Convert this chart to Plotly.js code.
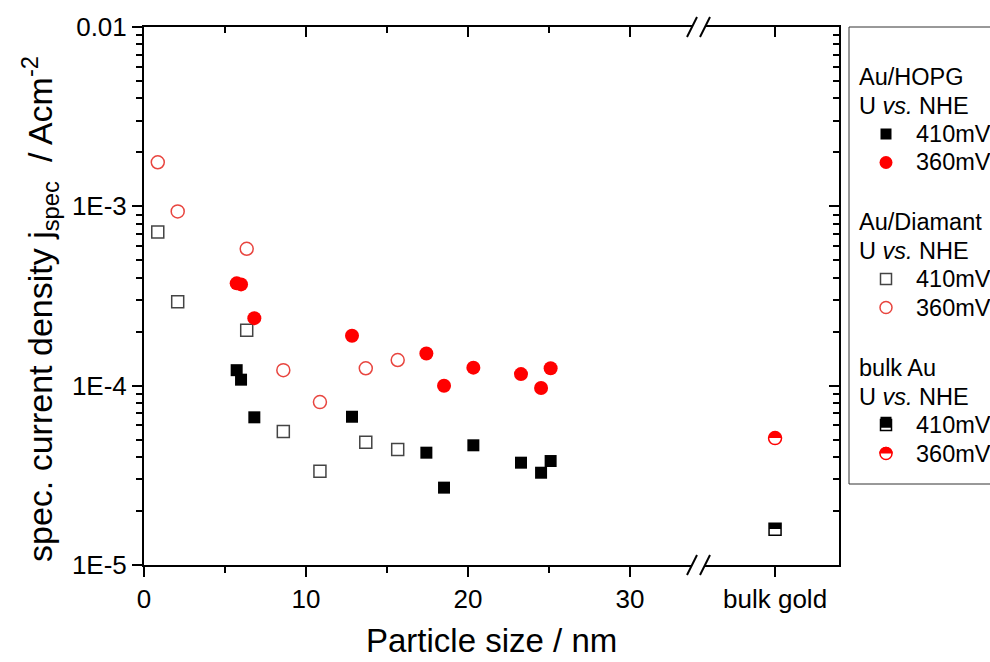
<!DOCTYPE html>
<html><head><meta charset="utf-8">
<script src="https://cdn.plot.ly/plotly-3.0.1.min.js"></script>
<style>html,body{margin:0;padding:0;background:#fff}#chart{width:990px;height:662px}</style>
</head><body><div id="chart"></div>
<script>
// ---- data ----
const hopgSize = [5.72, 5.99, 6.81, 12.84, 17.43, 18.52, 20.33, 23.27, 24.51, 25.10];
const hopg410 = [1.22e-4, 1.08e-4, 6.66e-5, 6.71e-5, 4.23e-5, 2.70e-5, 4.65e-5, 3.72e-5, 3.27e-5, 3.80e-5];
const hopg360 = [3.72e-4, 3.67e-4, 2.38e-4, 1.90e-4, 1.51e-4, 9.99e-5, 1.26e-4, 1.16e-4, 9.70e-5, 1.25e-4];
const diaSize = [0.85, 2.08, 6.34, 8.60, 10.86, 13.69, 15.66];
const dia410 = [7.19e-4, 2.94e-4, 2.04e-4, 5.56e-5, 3.33e-5, 4.83e-5, 4.41e-5];
const dia360 = [1.76e-3, 9.37e-4, 5.80e-4, 1.22e-4, 8.10e-5, 1.25e-4, 1.39e-4];
const bulkCat = ['bulk gold'];
const bulk410 = [1.585e-5];
const bulk360 = [5.10e-5];
const seriesNames = ['410mV', '360mV'];
const groupTitles = ['Au/HOPG<br>U <i>vs.</i> NHE', 'Au/Diamant<br>U <i>vs.</i> NHE', 'bulk Au<br>U <i>vs.</i> NHE'];
const yTickVals = [1e-5, 1e-4, 1e-3, 1e-2];
const yTickText = ['1E-5', '1E-4', '1E-3', '0.01'];
const xTitle = 'Particle size / nm';
const yTitle = 'spec. current density j<sub>spec</sub>  / Acm<sup>-2</sup>';

// ---- styling ----
const FONT = 'Liberation Sans, Arial, sans-serif';
const RED = '#ff0000', RED_OPEN = '#e8453f', GREY = '#444444', BLACK = '#000000';
const xBreak = 34.32;
const breakFrac = 0.8;
const minorY = [];
for (let d = -5; d < -2; d++) for (let m = 2; m <= 9; m++) minorY.push(m * Math.pow(10, d));

const traces = [
  {x:hopgSize, y:hopg410, name:seriesNames[0], type:'scatter', mode:'markers', xaxis:'x', yaxis:'y',
    marker:{symbol:'square', size:12, color:BLACK}},
  {x:hopgSize, y:hopg360, name:seriesNames[1], type:'scatter', mode:'markers', xaxis:'x3', yaxis:'y',
    marker:{symbol:'circle', size:14, color:RED}},
  {x:diaSize, y:dia410, name:seriesNames[0], type:'scatter', mode:'markers', xaxis:'x', yaxis:'y',
    marker:{symbol:'square-open', size:12, color:GREY, line:{width:1.5, color:GREY}}},
  {x:diaSize, y:dia360, name:seriesNames[1], type:'scatter', mode:'markers', xaxis:'x', yaxis:'y',
    marker:{symbol:'circle-open', size:13, color:RED_OPEN, line:{width:1.5, color:RED_OPEN}}},
  {x:bulkCat, y:bulk410, name:seriesNames[0], type:'scatter', mode:'markers', xaxis:'x2', yaxis:'y',
    marker:{symbol:'square', size:12, color:BLACK, gradient:{type:'vertical', color:'#ffffff'}, line:{width:1.5, color:BLACK}}},
  {x:bulkCat, y:bulk360, name:seriesNames[1], type:'scatter', mode:'markers', xaxis:'x4', yaxis:'y2',
    marker:{symbol:'circle', size:13, color:RED, gradient:{type:'vertical', color:'#ffffff'}, line:{width:1.5, color:RED}}}
];

const axBase = {showline:true, linecolor:'#000', linewidth:2, showgrid:false, zeroline:false,
  tickcolor:'#000', tickwidth:2, tickfont:{family:FONT, size:26, color:'#000'}};

// pixel -> paper helpers
const L = 144, R = 839, T = 27, B = 565;
const px = v => (v - L) / (R - L);
const py = v => (B - v) / (B - T);

const shapes = [];
const annotations = [];
// axis break marks
[T, B].forEach(yy => {
  shapes.push({type:'rect', xref:'paper', yref:'paper', x0:px(692), x1:px(705), y0:py(yy+3), y1:py(yy-3), fillcolor:'#fff', line:{width:0}, layer:'above'});
  shapes.push({type:'line', xref:'paper', yref:'paper', x0:px(687), x1:px(697), y0:py(yy+10), y1:py(yy-10), line:{color:'#000', width:2}, layer:'above'});
  shapes.push({type:'line', xref:'paper', yref:'paper', x0:px(700), x1:px(710), y0:py(yy+10), y1:py(yy-10), line:{color:'#000', width:2}, layer:'above'});
});

// ---- legend (drawn as annotations + shapes) ----
const LEG = {left:849, right:1000, top:27, bottom:484, textX:857, symX:886, itemX:914, fs:23.5, step:28.5};
const groupStart = [77, 222, 368];
shapes.push({type:'rect', xref:'paper', yref:'paper', x0:px(LEG.left), x1:px(LEG.right), y0:py(LEG.bottom), y1:py(LEG.top),
  fillcolor:'#fff', line:{color:'#333', width:1}, layer:'above'});
function txt(x, y, t){
  annotations.push({xref:'paper', yref:'paper', x:px(x), y:py(y), xanchor:'left', yanchor:'middle', showarrow:false,
    text:t, font:{family:FONT, size:LEG.fs, color:'#000'}});
}
function rectSym(cx, cy, s, fill, lc, lw){
  shapes.push({type:'rect', xref:'paper', yref:'paper', x0:px(cx-s/2), x1:px(cx+s/2), y0:py(cy+s/2), y1:py(cy-s/2),
    fillcolor:fill, line:{color:lc, width:lw}, layer:'above'});
}
function circSym(cx, cy, d, fill, lc, lw){
  shapes.push({type:'circle', xref:'paper', yref:'paper', x0:px(cx-d/2), x1:px(cx+d/2), y0:py(cy+d/2), y1:py(cy-d/2),
    fillcolor:fill, line:{color:lc, width:lw}, layer:'above'});
}
function topHalfCircle(cx, cy, r, fill){
  let p = '';
  for (let k = 0; k <= 16; k++){
    const a = Math.PI - Math.PI * k / 16;
    p += (k ? ' L' : 'M') + px(cx + r*Math.cos(a)) + ',' + py(cy - r*Math.sin(a));
  }
  shapes.push({type:'path', xref:'paper', yref:'paper', path:p + ' Z', fillcolor:fill, line:{width:0}, layer:'above'});
}
const symbolDrawers = [
  [ (y) => rectSym(LEG.symX, y, 11, BLACK, BLACK, 0),
    (y) => circSym(LEG.symX, y, 13, RED, RED, 0) ],
  [ (y) => rectSym(LEG.symX, y, 11, '#fff', GREY, 1.5),
    (y) => circSym(LEG.symX, y, 12, '#fff', RED_OPEN, 1.5) ],
  [ (y) => { rectSym(LEG.symX, y, 11, '#fff', BLACK, 1.5); rectSym(LEG.symX, y-2.75, 11, BLACK, BLACK, 0); },
    (y) => { circSym(LEG.symX, y, 12, '#fff', RED, 1.5); topHalfCircle(LEG.symX, y, 6.75, RED); } ]
];
groupTitles.forEach((gt, g) => {
  const y0 = groupStart[g];
  gt.split('<br>').forEach((line, i) => txt(LEG.textX, y0 + i*LEG.step, line));
  seriesNames.forEach((nm, s) => {
    const yy = y0 + (2 + s) * LEG.step;
    symbolDrawers[g][s](yy);
    txt(LEG.itemX, yy, nm);
  });
});

// axis titles
annotations.push({xref:'paper', yref:'paper', x:0.5, y:py(640), xanchor:'center', yanchor:'middle', showarrow:false,
  text:xTitle, font:{family:FONT, size:33, color:'#000'}});
annotations.push({xref:'paper', yref:'paper', x:px(40), y:py(309), xanchor:'center', yanchor:'middle', showarrow:false,
  textangle:-90, text:yTitle, font:{family:FONT, size:34, color:'#000'}});

const layout = {
  width:990, height:662,
  margin:{l:L, r:990-R, t:T, b:662-B, autoexpand:false},
  paper_bgcolor:'#fff', plot_bgcolor:'#fff',
  font:{family:FONT, color:'#000'},
  showlegend:false,
  xaxis:Object.assign({}, axBase, {domain:[0, breakFrac], anchor:'y', range:[0, xBreak], tick0:0, dtick:10,
    ticks:'outside', ticklen:10, minor:{ticks:'outside', ticklen:6, tickwidth:2, tickcolor:'#000', dtick:5, tick0:0}}),
  xaxis3:Object.assign({}, axBase, {overlaying:'x', side:'top', anchor:'y', range:[0, xBreak], tick0:0, dtick:10,
    ticks:'inside', ticklen:10, showticklabels:false, minor:{ticks:'inside', ticklen:6, tickwidth:2, tickcolor:'#000', dtick:5, tick0:0}}),
  xaxis2:Object.assign({}, axBase, {domain:[breakFrac, 1], anchor:'y', type:'category', range:[-0.54, 0.46],
    ticks:'outside', ticklen:10}),
  xaxis4:Object.assign({}, axBase, {overlaying:'x2', side:'top', anchor:'y', type:'category', range:[-0.54, 0.46],
    ticks:'inside', ticklen:10, showticklabels:false}),
  yaxis:Object.assign({}, axBase, {type:'log', range:[-5, -2], anchor:'x', tickmode:'array', tickvals:yTickVals, ticktext:yTickText,
    ticks:'outside', ticklen:10, minor:{tickmode:'array', tickvals:minorY, ticks:'outside', ticklen:6, tickwidth:2, tickcolor:'#000'}}),
  yaxis2:Object.assign({}, axBase, {type:'log', range:[-5, -2], overlaying:'y', side:'right', anchor:'x2', tickmode:'array', tickvals:yTickVals,
    ticks:'inside', ticklen:10, showticklabels:false, minor:{tickmode:'array', tickvals:minorY, ticks:'inside', ticklen:6, tickwidth:2, tickcolor:'#000'}}),
  annotations:annotations,
  shapes:shapes
};

function sharpenGradients(){
  document.querySelectorAll('#chart linearGradient').forEach(g => {
    const stops = Array.from(g.querySelectorAll('stop'));
    if (stops.length !== 2) return;
    stops.sort((a,b) => parseFloat(a.getAttribute('offset')) - parseFloat(b.getAttribute('offset')));
    const c0 = stops[0].getAttribute('stop-color'), c1 = stops[1].getAttribute('stop-color');
    while (g.firstChild) g.removeChild(g.firstChild);
    [[0,c0],[50,c0],[50,c1],[100,c1]].forEach(s => {
      const st = document.createElementNS('http://www.w3.org/2000/svg','stop');
      st.setAttribute('offset', s[0] + '%'); st.setAttribute('stop-color', s[1]);
      g.appendChild(st);
    });
  });
}

Plotly.newPlot('chart', traces, layout, {displayModeBar:false, staticPlot:true}).then(sharpenGradients);
</script>
</body></html>
